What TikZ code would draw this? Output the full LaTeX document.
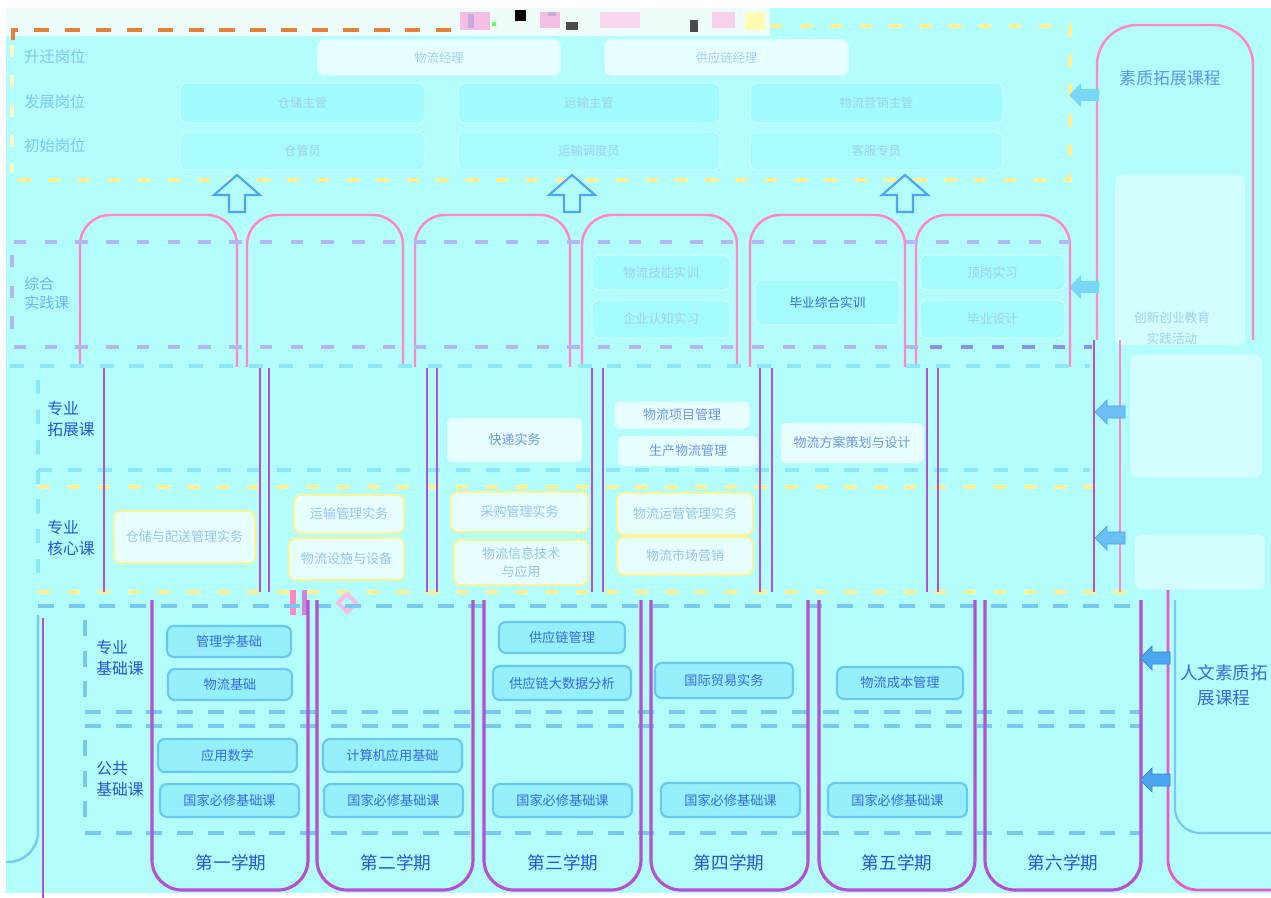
\documentclass[tikz,border=0pt]{standalone}
\usepackage{fontspec}
\newfontfamily\cjk{Noto Sans CJK SC}
\usetikzlibrary{calc}

\definecolor{bgcyan}{RGB}{180,253,253}
\definecolor{topstrip}{RGB}{238,252,252}
\definecolor{boxcyan}{RGB}{150,240,252}
\definecolor{boxedge}{RGB}{105,200,240}
\definecolor{txtblue}{RGB}{55,105,225}
\definecolor{labblue}{RGB}{35,85,215}
\definecolor{midtxt}{RGB}{110,150,228}
\definecolor{faint}{RGB}{160,208,238}
\definecolor{purp}{RGB}{180,80,210}
\definecolor{pinkl}{RGB}{255,135,195}
\definecolor{pinkd}{RGB}{232,90,200}
\definecolor{dashblue}{RGB}{120,200,240}
\definecolor{dashcyan}{RGB}{140,232,248}
\definecolor{dashyel}{RGB}{255,240,150}
\definecolor{lav}{RGB}{178,182,242}
\definecolor{lavdark}{RGB}{140,145,230}
\definecolor{orng}{RGB}{228,128,55}
\definecolor{arrblue}{RGB}{75,165,240}
\definecolor{arrlight}{RGB}{120,215,245}
\definecolor{palebox}{RGB}{232,255,255}
\definecolor{topbox}{RGB}{160,252,255}
\definecolor{topedge}{RGB}{200,255,255}
\definecolor{coreedge}{RGB}{250,245,150}
\definecolor{glpink}{RGB}{245,190,230}
\definecolor{gllav}{RGB}{200,170,225}

\begin{document}
\begin{tikzpicture}[x=0.02cm, y=-0.02cm,
  every node/.style={font=\cjk, inner sep=0pt, align=center},
  sz/.style 2 args={minimum width=#1*0.02cm, minimum height=#2*0.02cm},
  course/.style={draw=boxedge, fill=boxcyan, line width=1.2pt, rounded corners=4pt, text=txtblue, font=\cjk\fontsize{7.5}{9}\selectfont},
  extbox/.style={fill=palebox, rounded corners=3pt, text=midtxt, font=\cjk\fontsize{7.4}{9}\selectfont},
  corebox/.style={draw=coreedge, fill=palebox, line width=1.1pt, rounded corners=4pt, text=faint!80!midtxt, font=\cjk\fontsize{7.4}{10}\selectfont},
  jobbox/.style={fill=topbox, draw=topedge, line width=0.8pt, rounded corners=4pt, text=faint, font=\cjk\fontsize{7}{9}\selectfont},
  zhbox/.style={fill=topbox!80!bgcyan, draw=topedge, line width=0.8pt, rounded corners=4pt, text=faint, font=\cjk\fontsize{7.2}{9}\selectfont},
  toplab/.style={anchor=west, align=left, text=dashblue, font=\cjk\fontsize{8.7}{11}\selectfont},
  rowlab/.style={anchor=west, align=left, text=labblue, font=\cjk\fontsize{9}{11.5}\selectfont},
  semlab/.style={text=labblue, font=\cjk\fontsize{10}{12}\selectfont},
  semline/.style={purp, line width=1.8pt, rounded corners=0.6cm},
  arch/.style={pinkl, line width=1.4pt, rounded corners=0.6cm},
  vline/.style={purp, line width=1.6pt},
  bluedash/.style={dashblue, line width=2.2pt, dash pattern=on 9pt off 8.5pt},
  cyandash/.style={dashcyan, line width=2pt, dash pattern=on 8pt off 9pt},
  yeldash/.style={dashyel, line width=2pt, dash pattern=on 7pt off 10pt},
  lavdash/.style={lav, line width=1.8pt, dash pattern=on 7pt off 10.5pt},
  uparr/.pic={\draw[arrblue, line width=1.2pt, fill=bgcyan] (-8,19) -- (-8,2) -- (-23,2) -- (0,-18) -- (23,2) -- (8,2) -- (8,19) -- cycle;},
  larr/.pic={\path[pic actions] (-15,0) -- (-3,-12) -- (-3,-6) -- (15,-6) -- (15,6) -- (-3,6) -- (-3,12) -- cycle;}]
  \useasboundingbox (0,0) rectangle (1271,898);

  % Fond
  \fill[white] (0,0) rectangle (1271,898);
  \fill[bgcyan] (6,8) rectangle (1271,893);
  \fill[topstrip] (6,8) rectangle (770,36);
  \fill[glpink] (460,12) rectangle (490,30);
  \fill[gllav] (468,14) rectangle (474,28);
  \fill[green!60] (492,22) rectangle (496,26);
  \fill[black] (515,10) rectangle (526,21);
  \fill[glpink] (540,12) rectangle (560,28);
  \fill[gllav] (548,12) rectangle (556,16);
  \fill[black!70] (566,22) rectangle (578,30);
  \fill[glpink!60] (600,12) rectangle (640,28);
  \fill[black!70] (690,20) rectangle (698,32);
  \fill[glpink!70] (712,12) rectangle (735,28);
  \fill[yellow!30] (745,12) rectangle (765,30);

  % Postes
  \draw[orng, line width=2.8pt, dash pattern=on 8.8pt off 8.8pt] (13,40) -- (13,30) -- (460,30);
  \draw[yeldash] (770,26) -- (1070,26) -- (1070,180) -- (12,180);
  \draw[yeldash, dashyel!50!white] (12,45) -- (12,172);
  \node[toplab] (lsq) at (24,57) {升迁岗位};
  \node[toplab] (lfz) at (24,102) {发展岗位};
  \node[toplab] (lcs) at (24,146) {初始岗位};
  \node[jobbox, fill=palebox, draw=palebox, sz={242}{35}] (p1) at (439,57.5) {物流经理};
  \node[jobbox, fill=palebox, draw=palebox, sz={243}{35}] (p2) at (726.5,57.5) {供应链经理};
  \node[jobbox, sz={245}{40}] (d1) at (302.5,103) {仓储主管};
  \node[jobbox, sz={262}{40}] (d2) at (589,103) {运输主管};
  \node[jobbox, sz={253}{40}] (d3) at (876.5,103) {物流营销主管};
  \node[jobbox, fill=topbox!60!bgcyan, sz={245}{38}] (i1) at (302.5,151) {仓管员};
  \node[jobbox, fill=topbox!60!bgcyan, sz={262}{38}] (i2) at (589,151) {运输调度员};
  \node[jobbox, fill=topbox!60!bgcyan, sz={253}{38}] (i3) at (876.5,151) {客服专员};
  \pic (up1) at (237,193) {uparr};
  \pic (up2) at (572,193) {uparr};
  \pic (up3) at (905,193) {uparr};

  %素质拓展
  \draw[arch, rounded corners=0.8cm] (1097,340) -- (1097,25) -- (1253,25) -- (1253,340);
  \node[text=txtblue!70!bgcyan, font=\cjk\fontsize{9.6}{12}\selectfont] (szt) at (1170,78) {素质拓展课程};
  \node[fill=bgcyan!60!white, rounded corners=4pt, sz={130}{170}] (szin) at (1180,260) {};
  \node[text=faint, font=\cjk\fontsize{7.2}{12}\selectfont] (szsj) at (1172,328) {创新创业教育\\实践活动};
  \pic[fill=arrlight] (la1) at (1084,95) {larr};
  \pic[fill=arrlight] (la2) at (1084,287) {larr};

  % Arcs des semestres
  \draw[arch] (80,367) -- (80,215) -- (237,215) -- (237,367);
  \draw[arch] (247,367) -- (247,215) -- (403,215) -- (403,367);
  \draw[arch] (415,367) -- (415,215) -- (570,215) -- (570,367);
  \draw[arch] (582,367) -- (582,215) -- (737,215) -- (737,367);
  \draw[arch] (750,367) -- (750,215) -- (905,215) -- (905,367);
  \draw[arch] (916,367) -- (916,215) -- (1070,215) -- (1070,367);

  % Pratique
  \draw[lavdash] (14,242) -- (1070,242);
  \draw[lavdash] (14,347) -- (925,347);
  \draw[lavdash, lavdark] (930,347) -- (1092,347);
  \draw[lavdash] (12,255) -- (12,345);
  \node[toplab, text=dashblue!80!txtblue, font=\cjk\fontsize{8.5}{11}\selectfont] (lzh) at (24,293) {综合\\实践课};
  \node[zhbox, sz={138}{35}] (z4a) at (661,272.5) {物流技能实训};
  \node[zhbox, sz={138}{38}] (z4b) at (661,319) {企业认知实习};
  \node[zhbox, sz={145}{45}, text=txtblue] (z5) at (827.5,302.5) {毕业综合实训};
  \node[zhbox, sz={145}{35}] (z6a) at (992.5,272.5) {顶岗实习};
  \node[zhbox, sz={145}{38}] (z6b) at (992.5,319) {毕业设计};

  % Cours professionnels
  \draw[cyandash] (10,366) -- (1090,366);
  \draw[cyandash] (38,470) -- (1090,470);
  \draw[yeldash] (38,487) -- (1110,487);
  \draw[yeldash] (38,592) -- (1140,592);
  \draw[cyandash] (38,380) -- (38,585);
  \node[fill=bgcyan!60!white, rounded corners=4pt, sz={132}{123}] (kz1) at (1196,416) {};
  \node[fill=bgcyan!60!white, rounded corners=4pt, sz={130}{55}] (kz2) at (1200,562) {};
  \draw[vline] (104,368) -- (104,592);
  \draw[vline] (260,368) -- (260,592);
  \draw[vline] (269,368) -- (269,592);
  \draw[vline] (427,368) -- (427,592);
  \draw[vline] (437,368) -- (437,592);
  \draw[vline] (592,368) -- (592,592);
  \draw[vline] (603,368) -- (603,592);
  \draw[vline] (760,368) -- (760,592);
  \draw[vline] (772,368) -- (772,592);
  \draw[vline] (927,368) -- (927,592);
  \draw[vline] (938,368) -- (938,592);
  \draw[vline] (1094,340) -- (1094,592);
  \draw[arch] (1120,340) -- (1120,592);
  \node[rowlab] (ltz) at (47,419) {专业\\拓展课};
  \node[rowlab] (lhx) at (47,538) {专业\\核心课};
  \node[extbox, sz={135}{44}] (e3) at (514.5,440) {快递实务};
  \node[extbox, sz={135}{27}] (e4a) at (682,415) {物流项目管理};
  \node[extbox, sz={140}{30}] (e4b) at (688,451) {生产物流管理};
  \node[extbox, sz={143}{40}] (e5) at (852,443) {物流方案策划与设计};
  \node[corebox, sz={141}{52}] (c1) at (184.5,537) {仓储与配送管理实务};
  \node[corebox, sz={110}{38}] (c2a) at (349,514) {运输管理实务};
  \node[corebox, sz={115}{42}] (c2b) at (346.5,559) {物流设施与设备};
  \node[corebox, sz={137}{40}] (c3a) at (519.5,512) {采购管理实务};
  \node[corebox, sz={134}{45}] (c3b) at (521,562.5) {物流信息技术\\与应用};
  \node[corebox, sz={136}{42}] (c4a) at (685,514) {物流运营管理实务};
  \node[corebox, sz={136}{38}] (c4b) at (685,556) {物流市场营销};
  \pic[fill=arrblue!70!bgcyan, draw=arrblue] (lm1) at (1110,412) {larr};
  \pic[fill=arrblue!70!bgcyan, draw=arrblue] (lm2) at (1110,538) {larr};
  \fill[pinkl] (290,590) rectangle (296,615);
  \fill[purp!70] (302,590) rectangle (307,615);
  \fill[glpink] (347,591) -- (359,603) -- (347,615) -- (335,603) -- cycle;
  \fill[bgcyan] (347,597) -- (353,603) -- (347,609) -- (341,603) -- cycle;

  % Semestres
  \draw[bluedash] (38,606) -- (1140,606);
  \draw[bluedash] (85,712) -- (1140,712);
  \draw[bluedash] (85,726) -- (1140,726);
  \draw[bluedash] (85,833) -- (1140,833);
  \draw[bluedash] (85,620) -- (85,708);
  \draw[bluedash] (85,740) -- (85,830);
  \draw[dashblue, line width=1.4pt, rounded corners=0.6cm] (38,615) -- (38,862) -- (6,862);
  \draw[vline] (43,618) -- (43,898);
  \draw[semline] (152,600) -- (152,890) -- (308,890) -- (308,600);
  \draw[semline] (317,600) -- (317,890) -- (473,890) -- (473,600);
  \draw[semline] (484,600) -- (484,890) -- (641,890) -- (641,600);
  \draw[semline] (651,600) -- (651,890) -- (808,890) -- (808,600);
  \draw[semline] (819,600) -- (819,890) -- (975,890) -- (975,600);
  \draw[semline] (985,600) -- (985,890) -- (1141,890) -- (1141,600);
  \node[rowlab] (ljc) at (96,658) {专业\\基础课};
  \node[rowlab] (lgg) at (96,779) {公共\\基础课};
  \node[course, sz={124}{31}] (b1a) at (229,641.5) {管理学基础};
  \node[course, sz={124}{31}] (b1b) at (230,684.5) {物流基础};
  \node[course, sz={139}{33}] (g1a) at (227.5,755.5) {应用数学};
  \node[course, sz={139}{33}] (g1b) at (229.5,800.5) {国家必修基础课};
  \node[course, sz={139}{33}] (g2a) at (392.5,755.5) {计算机应用基础};
  \node[course, sz={139}{33}] (g2b) at (393.5,800.5) {国家必修基础课};
  \node[course, sz={126}{31}] (b3a) at (562,637.5) {供应链管理};
  \node[course, sz={138}{34}] (b3b) at (562,683) {供应链大数据分析};
  \node[course, sz={139}{33}] (g3b) at (562.5,800.5) {国家必修基础课};
  \node[course, sz={138}{35}] (b4) at (724,680.5) {国际贸易实务};
  \node[course, sz={139}{34}] (g4b) at (730.5,800) {国家必修基础课};
  \node[course, sz={126}{32}] (b5) at (900,683) {物流成本管理};
  \node[course, sz={139}{34}] (g5b) at (897.5,800) {国家必修基础课};
  \node[semlab] (s1) at (231,863) {第一学期};
  \node[semlab] (s2) at (396,863) {第二学期};
  \node[semlab] (s3) at (563,863) {第三学期};
  \node[semlab] (s4) at (729,863) {第四学期};
  \node[semlab] (s5) at (897,863) {第五学期};
  \node[semlab] (s6) at (1063,863) {第六学期};

  % Humanites
  \draw[pinkd, line width=1.6pt, rounded corners=0.6cm] (1168,590) -- (1168,890) -- (1290,890);
  \draw[dashblue, line width=1.2pt, rounded corners=0.5cm] (1175,600) -- (1175,833) -- (1290,833);
  \node[text=txtblue, font=\cjk\fontsize{10}{14}\selectfont] (rw) at (1224,685) {人文素质拓\\展课程};
  \pic[fill=arrblue, draw=arrblue!80!black] (lb1) at (1155,658) {larr};
  \pic[fill=arrblue, draw=arrblue!80!black] (lb2) at (1155,780) {larr};
\end{tikzpicture}
\end{document}
